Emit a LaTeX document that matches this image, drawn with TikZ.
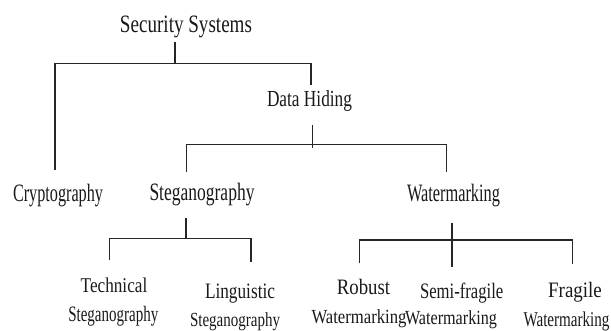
\documentclass[tikz,border=0pt]{standalone}
\usepackage{fontspec}
\setmainfont{Liberation Serif}
\usetikzlibrary{calc}
% text set at a given size and squeezed horizontally to a given width (in pt)
\newcommand\squeezed[3]{\resizebox{#1pt}{\height}{\fontsize{#2}{#2}\selectfont #3}}

\begin{document}
\begin{tikzpicture}[x=1pt, y=-1pt,
  lbl/.style={inner sep=0pt, anchor=base, text=black!90},
  conn/.style={draw=black!85, line width=1.5pt}]
\useasboundingbox (0,0) rectangle (611,331);

% ---- labels ----
\node[lbl] (sec)    at (186,32.7)    {\squeezed{132}{25}{Security Systems}};
\node[lbl] (dh)     at (309.5,106.7) {\squeezed{85}{23}{Data Hiding}};
\node[lbl] (crypto) at (58,201.7)    {\squeezed{90}{25}{Cryptography}};
\node[lbl] (steg)   at (202,201)     {\squeezed{105}{25}{Steganography}};
\node[lbl] (wm)     at (453.5,201.7) {\squeezed{93}{25}{Watermarking}};

\node[lbl] (tech)   at (114,292.3)   {\squeezed{66.6}{21}{Technical}};
\node[lbl] (tech2)  at (113.3,321.7) {\squeezed{90}{22}{Steganography}};
\node[lbl] (ling)   at (240,298.3)   {\squeezed{70}{22}{Linguistic}};
\node[lbl] (ling2)  at (235,326.7)   {\squeezed{90}{20}{Steganography}};

\node[lbl] (robust) at (363.5,295)   {\squeezed{53.3}{22}{Robust}};
\node[lbl] (robust2) at (359,323.3)  {\squeezed{95}{20}{Watermarking}};
\node[lbl] (semi)   at (461.7,298.3) {\squeezed{83.3}{22}{Semi-fragile}};
\node[lbl] (semi2)  at (451,324)     {\squeezed{92}{20}{Watermarking}};
\node[lbl] (frag)   at (575,298)     {\squeezed{53.7}{22}{Fragile}};
\node[lbl] (frag2)  at (566.5,326.7) {\squeezed{86}{21}{Watermarking}};

% ---- Security Systems -> Cryptography, Data Hiding ----
\coordinate (j1) at ($(sec.base)+(-11,30.6)$);
\draw[conn] ($(sec.base)+(-11,9.3)$) -- (j1);
\draw[conn] ($(crypto.base)+(-3,-31.7)$) |- (j1) -| ($(dh.base)+(1.5,-21.7)$);

% ---- Data Hiding -> Steganography, Watermarking ----
\coordinate (j2) at ($(dh.base)+(3,37.6)$);
\draw[conn] ($(dh.base)+(3,18.3)$) -- ($(dh.base)+(3,41.3)$);
\draw[conn] ($(steg.base)+(-15.5,-29.3)$) |- (j2) -| ($(wm.base)+(-6.8,-30)$);

% ---- Steganography -> Technical, Linguistic ----
\coordinate (j3) at ($(steg.base)+(-16,37.3)$);
\draw[conn] ($(steg.base)+(-16,17)$) -- (j3);
\draw[conn] ($(tech.base)+(-4.7,-32.3)$) |- (j3) -| ($(ling.base)+(11,-36.6)$);

% ---- Watermarking -> Robust, Semi-fragile, Fragile ----
\coordinate (j4) at ($(wm.base)+(-1.5,38.3)$);
\draw[conn] ($(wm.base)+(-1.5,21.3)$) -- ($(semi.base)+(-9.7,-31.6)$);
\draw[conn] ($(robust.base)+(-4.2,-31.7)$) |- (j4) -| ($(frag.base)+(-2.7,-33.7)$);
\end{tikzpicture}
\end{document}
